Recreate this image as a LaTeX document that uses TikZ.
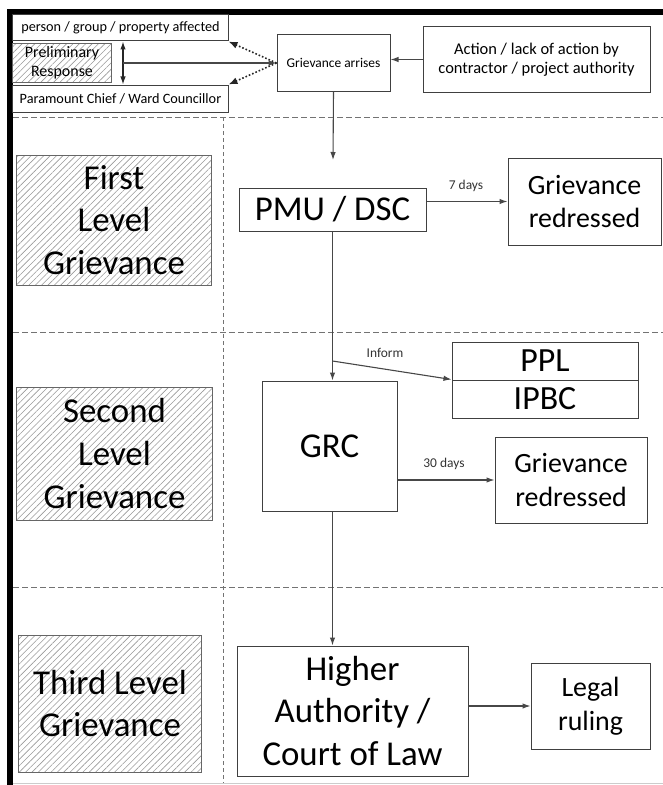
\documentclass[tikz,border=0pt]{standalone}
\usepackage{fontspec}
\setmainfont{Carlito}
\usetikzlibrary{arrows.meta, positioning, calc, patterns.meta}

\tikzset{
  box/.style={draw=black!75, line width=1bp, align=center, inner sep=0pt, text=black},
  hatchbox/.style={box, draw=black!60, pattern={Lines[angle=45,distance=4.5bp,line width=0.6bp]}, pattern color=black!40},
  flow/.style={draw=black!72, line width=1.1bp, -{Latex[length=8bp,width=5.5bp]}},
  flowboth/.style={draw=black!85, line width=1.2bp, {Latex[length=8bp,width=5.5bp]}-{Latex[length=8bp,width=5.5bp]}},
  dotflow/.style={draw=black!85, line width=1.6bp, dotted, -{Latex[length=9bp,width=7bp]}},
  sep/.style={draw=black!55, line width=1bp, dash pattern=on 6bp off 3bp},
  big/.style={font=\fontsize{35}{42.7}\selectfont},
  mid/.style={font=\fontsize{28}{34}\selectfont},
  small/.style={font=\fontsize{14.3}{17.5}\selectfont},
  lbl/.style={font=\fontsize{13.5}{16}\selectfont, text=black!80, inner sep=0pt},
}

\begin{document}
\begin{tikzpicture}[x=1bp, y=-1bp]
  \useasboundingbox (0,0) rectangle (663,785);

  % frame and level separators
  \draw[line width=6bp] (663,12) -- (10,12) -- (10,785);
  \draw[black!20, line width=1bp] (13,783) -- (663,783);
  \foreach \y in {117, 332, 587} {
    \draw[sep] (13,\y) -- (663,\y);
  }
  \draw[sep, line width=0.8bp, dash pattern=on 4bp off 3bp] (223,117) -- (223,783);

  % top row
  \node[box, small, minimum width=215bp, minimum height=26bp] (affected) at (120.5,28) {person / group / property affected};
  \node[hatchbox, font=\fontsize{16}{19}\selectfont, minimum width=98bp, minimum height=38bp] (prelim) at (62,63) {Preliminary\\Response};
  \node[box, small, minimum width=215bp, minimum height=27bp] (chief) at (120.5,98.5) {Paramount Chief / Ward Councillor};
  \node[box, font=\fontsize{13.5}{16}\selectfont, minimum width=113bp, minimum height=56bp] (arises) at (333.5,63) {Grievance arrises};
  \node[box, font=\fontsize{16.5}{19.5}\selectfont, minimum width=227bp, minimum height=65bp] (action) at (536.5,59.5) {Action / lack of action by\\contractor / project authority};

  \coordinate (split) at (123,63);
  \coordinate (pmuin) at (333,160);
  \draw[flow] (action.west) -- (arises.east |- action.west);
  \draw[flowboth] (split |- affected.south) -- (split |- chief.north);
  \draw[flow] (split) -- (arises.west);
  \draw[dotflow] (arises.west) -- (affected.south east);
  \draw[dotflow] (arises.west) -- (chief.north east);
  \draw[flow] (arises.south) -- (pmuin);

  % first level
  \node[hatchbox, big, minimum width=194bp, minimum height=130bp] (first) at (114,220) {First\\Level\\Grievance};
  \node[box, big, minimum width=187bp, minimum height=43bp] (pmu) at (332.5,209.5) {PMU / DSC};
  \node[box, mid, minimum width=153bp, minimum height=87bp] (redA) at (584.5,201.5) {Grievance\\redressed};
  \draw[flow] (pmu.east |- redA.west) -- (redA.west);
  \node[lbl] (seven) at (466,186) {7 days};

  % second level
  \node[hatchbox, big, minimum width=195bp, minimum height=133bp] (second) at (114.5,453.5) {Second\\Level\\Grievance};
  \node[box, font=\fontsize{34}{40}\selectfont, minimum width=186bp, minimum height=38bp] (ppl) at (545,361) {PPL};
  \node[box, font=\fontsize{34}{40}\selectfont, minimum width=186bp, minimum height=38bp] (ipbc) at (545,399) {IPBC};
  \node[box, big, minimum width=135bp, minimum height=130bp] (grc) at (329.5,446) {GRC};
  \node[box, mid, minimum width=152bp, minimum height=86bp] (redB) at (571,480) {Grievance\\redressed};
  \coordinate (inform) at (pmu.south |- 0,361);
  \draw[flow] (pmu.south) -- (pmu.south |- grc.north);
  \draw[flow] (inform) -- (ipbc.north west);
  \node[lbl] (informlbl) at (385,353) {Inform};
  \draw[flow] (grc.east |- redB.west) -- (redB.west);
  \node[lbl] (thirty) at (444,464) {30 days};

  % third level
  \node[hatchbox, big, minimum width=182bp, minimum height=137bp] (third) at (110,703.5) {Third Level\\Grievance};
  \node[box, big, minimum width=231bp, minimum height=130bp] (higher) at (352.5,711) {Higher\\Authority /\\Court of Law};
  \node[box, mid, minimum width=119bp, minimum height=86bp] (legal) at (590.5,706) {Legal\\ruling};
  \draw[flow] (pmu.south |- grc.south) -- (pmu.south |- higher.north);
  \draw[flow] (higher.east |- legal.west) -- (legal.west);

\end{tikzpicture}
\end{document}
